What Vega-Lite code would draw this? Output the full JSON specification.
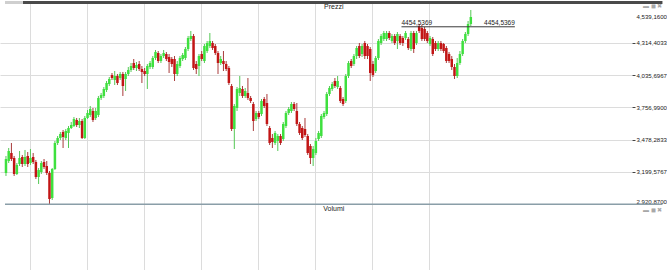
{
"$schema": "https://vega.github.io/schema/vega-lite/v6.json",
"width": 632, "height": 270, "padding": 0, "autosize": {"type": "pad"},
"background": "white",
"config": {"view": {"stroke": null}, "font": "Liberation Sans, Arial, sans-serif"},
"datasets": {
"candles": [
{"d":0,"o":3191.0,"h":3337.9,"l":3165.0,"c":3311.9},
{"d":1,"o":3294.7,"h":3407.0,"l":3277.4,"c":3381.1},
{"d":2,"o":3363.8,"h":3450.2,"l":3294.7,"c":3311.9},
{"d":3,"o":3320.6,"h":3337.9,"l":3165.0,"c":3182.3},
{"d":4,"o":3182.3,"h":3277.4,"l":3173.7,"c":3260.1},
{"d":5,"o":3268.7,"h":3381.1,"l":3251.4,"c":3320.6},
{"d":6,"o":3329.2,"h":3346.5,"l":3242.8,"c":3268.7},
{"d":7,"o":3268.7,"h":3389.7,"l":3251.4,"c":3329.2},
{"d":8,"o":3337.9,"h":3372.4,"l":3242.8,"c":3268.7},
{"d":9,"o":3277.4,"h":3398.4,"l":3260.1,"c":3320.6},
{"d":10,"o":3329.2,"h":3363.8,"l":3268.7,"c":3286.0},
{"d":11,"o":3286.0,"h":3303.3,"l":3139.1,"c":3156.4},
{"d":12,"o":3156.4,"h":3234.2,"l":3095.9,"c":3216.9},
{"d":13,"o":3199.6,"h":3294.7,"l":3182.3,"c":3277.4},
{"d":14,"o":3286.0,"h":3311.9,"l":3225.5,"c":3242.8},
{"d":15,"o":3251.4,"h":3294.7,"l":3173.7,"c":3191.0},
{"d":16,"o":3191.0,"h":3208.2,"l":2923.1,"c":2966.3},
{"d":17,"o":2974.9,"h":3234.2,"l":2957.6,"c":3225.5},
{"d":18,"o":3225.5,"h":3467.5,"l":3216.9,"c":3450.2},
{"d":19,"o":3450.2,"h":3510.7,"l":3432.9,"c":3493.4},
{"d":20,"o":3493.4,"h":3545.3,"l":3476.1,"c":3528.0},
{"d":21,"o":3545.3,"h":3562.6,"l":3407.0,"c":3502.1},
{"d":22,"o":3493.4,"h":3571.2,"l":3476.1,"c":3553.9},
{"d":23,"o":3536.6,"h":3597.1,"l":3407.0,"c":3579.8},
{"d":24,"o":3579.8,"h":3631.7,"l":3571.2,"c":3605.8},
{"d":25,"o":3597.1,"h":3674.9,"l":3588.5,"c":3657.6},
{"d":26,"o":3649.0,"h":3666.3,"l":3588.5,"c":3605.8},
{"d":27,"o":3605.8,"h":3666.3,"l":3579.8,"c":3640.3},
{"d":28,"o":3640.3,"h":3657.6,"l":3484.8,"c":3493.4},
{"d":29,"o":3493.4,"h":3683.5,"l":3484.8,"c":3666.3},
{"d":30,"o":3666.3,"h":3735.4,"l":3657.6,"c":3709.5},
{"d":31,"o":3692.2,"h":3770.0,"l":3674.9,"c":3744.0},
{"d":32,"o":3726.7,"h":3752.7,"l":3631.7,"c":3649.0},
{"d":33,"o":3666.3,"h":3752.7,"l":3649.0,"c":3726.7},
{"d":34,"o":3692.2,"h":3856.4,"l":3674.9,"c":3839.1},
{"d":35,"o":3839.1,"h":3882.3,"l":3821.8,"c":3865.0},
{"d":36,"o":3856.4,"h":3934.1,"l":3839.1,"c":3916.9},
{"d":37,"o":3908.2,"h":3986.0,"l":3890.9,"c":3968.7},
{"d":38,"o":3960.1,"h":4020.6,"l":3942.8,"c":4003.3},
{"d":39,"o":4037.8,"h":4055.1,"l":3994.6,"c":4011.9},
{"d":40,"o":3994.6,"h":4072.4,"l":3951.4,"c":4029.2},
{"d":41,"o":4029.2,"h":4046.5,"l":3951.4,"c":3968.7},
{"d":42,"o":4011.9,"h":4063.8,"l":3994.6,"c":4046.5},
{"d":43,"o":4046.5,"h":4063.8,"l":3856.4,"c":3942.8},
{"d":44,"o":4003.3,"h":4063.8,"l":3899.6,"c":4046.5},
{"d":45,"o":4046.5,"h":4107.0,"l":4029.2,"c":4081.1},
{"d":46,"o":4081.1,"h":4141.5,"l":4063.8,"c":4115.6},
{"d":47,"o":4141.5,"h":4176.1,"l":4081.1,"c":4098.3},
{"d":48,"o":4098.3,"h":4150.2,"l":4072.4,"c":4124.3},
{"d":49,"o":4132.9,"h":4158.8,"l":4072.4,"c":4089.7},
{"d":50,"o":4089.7,"h":4115.6,"l":3968.7,"c":4063.8},
{"d":51,"o":4072.4,"h":4098.3,"l":4029.2,"c":4046.5},
{"d":52,"o":4046.5,"h":4132.9,"l":3916.9,"c":4115.6},
{"d":53,"o":4107.0,"h":4158.8,"l":4089.7,"c":4141.5},
{"d":54,"o":4107.0,"h":4202.0,"l":4089.7,"c":4184.8},
{"d":55,"o":4184.8,"h":4253.9,"l":4167.5,"c":4236.6},
{"d":56,"o":4228.0,"h":4245.2,"l":4141.5,"c":4158.8},
{"d":57,"o":4158.8,"h":4219.3,"l":4141.5,"c":4202.0},
{"d":58,"o":4202.0,"h":4253.9,"l":4184.8,"c":4228.0},
{"d":59,"o":4219.3,"h":4236.6,"l":4158.8,"c":4176.1},
{"d":60,"o":4193.4,"h":4219.3,"l":4055.1,"c":4150.2},
{"d":61,"o":4176.1,"h":4193.4,"l":4107.0,"c":4132.9},
{"d":62,"o":4176.1,"h":4202.0,"l":3986.0,"c":4046.5},
{"d":63,"o":4046.5,"h":4158.8,"l":4029.2,"c":4132.9},
{"d":64,"o":4115.6,"h":4202.0,"l":4098.3,"c":4184.8},
{"d":65,"o":4176.1,"h":4228.0,"l":4158.8,"c":4210.7},
{"d":66,"o":4184.8,"h":4279.8,"l":4167.5,"c":4262.5},
{"d":67,"o":4262.5,"h":4374.9,"l":4245.2,"c":4357.6},
{"d":68,"o":4348.9,"h":4418.1,"l":4331.7,"c":4374.9},
{"d":69,"o":4374.9,"h":4392.2,"l":4081.1,"c":4098.3},
{"d":70,"o":4132.9,"h":4158.8,"l":4046.5,"c":4089.7},
{"d":71,"o":4115.6,"h":4219.3,"l":4029.2,"c":4202.0},
{"d":72,"o":4219.3,"h":4245.2,"l":4158.8,"c":4176.1},
{"d":73,"o":4158.8,"h":4305.7,"l":4141.5,"c":4288.5},
{"d":74,"o":4245.2,"h":4331.7,"l":4228.0,"c":4314.4},
{"d":75,"o":4288.5,"h":4400.8,"l":4271.2,"c":4331.7},
{"d":76,"o":4314.4,"h":4331.7,"l":4253.9,"c":4271.2},
{"d":77,"o":4288.5,"h":4305.7,"l":4210.7,"c":4228.0},
{"d":78,"o":4228.0,"h":4245.2,"l":4046.5,"c":4141.5},
{"d":79,"o":4141.5,"h":4202.0,"l":4124.3,"c":4176.1},
{"d":80,"o":4158.8,"h":4245.2,"l":4072.4,"c":4132.9},
{"d":81,"o":4132.9,"h":4158.8,"l":4072.4,"c":4089.7},
{"d":82,"o":4098.3,"h":4115.6,"l":3951.4,"c":3968.7},
{"d":83,"o":3942.8,"h":3960.1,"l":3553.9,"c":3571.2},
{"d":84,"o":3571.2,"h":3787.2,"l":3398.4,"c":3770.0},
{"d":85,"o":3752.7,"h":3934.1,"l":3726.7,"c":3916.9},
{"d":86,"o":3882.3,"h":4029.2,"l":3856.4,"c":3925.5},
{"d":87,"o":3916.9,"h":3942.8,"l":3839.1,"c":3856.4},
{"d":88,"o":3856.4,"h":3925.5,"l":3839.1,"c":3899.6},
{"d":89,"o":3882.3,"h":4011.9,"l":3821.8,"c":3839.1},
{"d":90,"o":3839.1,"h":3856.4,"l":3795.9,"c":3813.2},
{"d":91,"o":3787.2,"h":3804.5,"l":3553.9,"c":3640.3},
{"d":92,"o":3657.6,"h":3726.7,"l":3640.3,"c":3709.5},
{"d":93,"o":3709.5,"h":3726.7,"l":3657.6,"c":3674.9},
{"d":94,"o":3700.8,"h":3830.4,"l":3683.5,"c":3813.2},
{"d":95,"o":3830.4,"h":3847.7,"l":3752.7,"c":3770.0},
{"d":96,"o":3795.9,"h":3873.7,"l":3597.1,"c":3614.4},
{"d":97,"o":3579.8,"h":3597.1,"l":3432.9,"c":3450.2},
{"d":98,"o":3493.4,"h":3528.0,"l":3407.0,"c":3458.9},
{"d":99,"o":3450.2,"h":3553.9,"l":3432.9,"c":3536.6},
{"d":100,"o":3467.5,"h":3528.0,"l":3381.1,"c":3510.7},
{"d":101,"o":3510.7,"h":3528.0,"l":3432.9,"c":3450.2},
{"d":102,"o":3484.8,"h":3631.7,"l":3467.5,"c":3614.4},
{"d":103,"o":3597.1,"h":3726.7,"l":3579.8,"c":3709.5},
{"d":104,"o":3709.5,"h":3761.3,"l":3692.2,"c":3744.0},
{"d":105,"o":3726.7,"h":3804.5,"l":3709.5,"c":3787.2},
{"d":106,"o":3787.2,"h":3804.5,"l":3726.7,"c":3744.0},
{"d":107,"o":3726.7,"h":3795.9,"l":3597.1,"c":3614.4},
{"d":108,"o":3614.4,"h":3631.7,"l":3519.3,"c":3536.6},
{"d":109,"o":3579.8,"h":3597.1,"l":3476.1,"c":3493.4},
{"d":110,"o":3571.2,"h":3666.3,"l":3502.1,"c":3519.3},
{"d":111,"o":3510.7,"h":3528.0,"l":3346.5,"c":3363.8},
{"d":112,"o":3424.3,"h":3441.6,"l":3268.7,"c":3320.6},
{"d":113,"o":3320.6,"h":3424.3,"l":3251.4,"c":3398.4},
{"d":114,"o":3363.8,"h":3493.4,"l":3346.5,"c":3467.5},
{"d":115,"o":3484.8,"h":3553.9,"l":3467.5,"c":3536.6},
{"d":116,"o":3510.7,"h":3700.8,"l":3493.4,"c":3683.5},
{"d":117,"o":3674.9,"h":3726.7,"l":3657.6,"c":3709.5},
{"d":118,"o":3700.8,"h":3890.9,"l":3683.5,"c":3873.7},
{"d":119,"o":3873.7,"h":3942.8,"l":3856.4,"c":3925.5},
{"d":120,"o":3916.9,"h":3977.4,"l":3899.6,"c":3960.1},
{"d":121,"o":3986.0,"h":4011.9,"l":3925.5,"c":3942.8},
{"d":122,"o":3934.1,"h":4029.2,"l":3916.9,"c":3986.0},
{"d":123,"o":3925.5,"h":3942.8,"l":3795.9,"c":3813.2},
{"d":124,"o":3830.4,"h":3847.7,"l":3770.0,"c":3787.2},
{"d":125,"o":3813.2,"h":4046.5,"l":3795.9,"c":4029.2},
{"d":126,"o":4029.2,"h":4158.8,"l":4011.9,"c":4141.5},
{"d":127,"o":4158.8,"h":4176.1,"l":4098.3,"c":4115.6},
{"d":128,"o":4132.9,"h":4219.3,"l":4115.6,"c":4202.0},
{"d":129,"o":4202.0,"h":4288.5,"l":4176.1,"c":4271.2},
{"d":130,"o":4288.5,"h":4314.4,"l":4184.8,"c":4202.0},
{"d":131,"o":4219.3,"h":4305.7,"l":4193.4,"c":4288.5},
{"d":132,"o":4314.4,"h":4331.7,"l":4176.1,"c":4202.0},
{"d":133,"o":4288.5,"h":4305.7,"l":4176.1,"c":4202.0},
{"d":134,"o":4262.5,"h":4279.8,"l":3986.0,"c":4055.1},
{"d":135,"o":4132.9,"h":4158.8,"l":4020.6,"c":4037.8},
{"d":136,"o":4072.4,"h":4202.0,"l":4055.1,"c":4184.8},
{"d":137,"o":4184.8,"h":4348.9,"l":4167.5,"c":4331.7},
{"d":138,"o":4314.4,"h":4392.2,"l":4297.1,"c":4374.9},
{"d":139,"o":4348.9,"h":4418.1,"l":4331.7,"c":4400.8},
{"d":140,"o":4348.9,"h":4418.1,"l":4331.7,"c":4400.8},
{"d":141,"o":4400.8,"h":4418.1,"l":4340.3,"c":4357.6},
{"d":142,"o":4331.7,"h":4392.2,"l":4314.4,"c":4374.9},
{"d":143,"o":4374.9,"h":4392.2,"l":4297.1,"c":4314.4},
{"d":144,"o":4331.7,"h":4409.4,"l":4262.5,"c":4392.2},
{"d":145,"o":4374.9,"h":4392.2,"l":4297.1,"c":4314.4},
{"d":146,"o":4357.6,"h":4374.9,"l":4288.5,"c":4314.4},
{"d":147,"o":4357.6,"h":4418.1,"l":4340.3,"c":4400.8},
{"d":148,"o":4348.9,"h":4366.2,"l":4253.9,"c":4271.2},
{"d":149,"o":4262.5,"h":4418.1,"l":4245.2,"c":4400.8},
{"d":150,"o":4400.8,"h":4418.1,"l":4228.0,"c":4262.5},
{"d":151,"o":4314.4,"h":4418.1,"l":4297.1,"c":4400.8},
{"d":152,"o":4461.3,"h":4478.6,"l":4400.8,"c":4418.1},
{"d":153,"o":4444.0,"h":4469.9,"l":4331.7,"c":4348.9},
{"d":154,"o":4435.4,"h":4452.7,"l":4331.7,"c":4348.9},
{"d":155,"o":4400.8,"h":4418.1,"l":4314.4,"c":4331.7},
{"d":156,"o":4305.7,"h":4374.9,"l":4288.5,"c":4357.6},
{"d":157,"o":4348.9,"h":4366.2,"l":4202.0,"c":4219.3},
{"d":158,"o":4314.4,"h":4331.7,"l":4245.2,"c":4262.5},
{"d":159,"o":4262.5,"h":4331.7,"l":4245.2,"c":4314.4},
{"d":160,"o":4314.4,"h":4331.7,"l":4245.2,"c":4262.5},
{"d":161,"o":4305.7,"h":4314.4,"l":4228.0,"c":4245.2},
{"d":162,"o":4271.2,"h":4288.5,"l":4141.5,"c":4158.8},
{"d":163,"o":4219.3,"h":4236.6,"l":4141.5,"c":4158.8},
{"d":164,"o":4176.1,"h":4202.0,"l":4081.1,"c":4107.0},
{"d":165,"o":4107.0,"h":4132.9,"l":4003.3,"c":4029.2},
{"d":166,"o":4029.2,"h":4184.8,"l":4011.9,"c":4141.5},
{"d":167,"o":4141.5,"h":4245.2,"l":4124.3,"c":4219.3},
{"d":168,"o":4219.3,"h":4348.9,"l":4202.0,"c":4331.7},
{"d":169,"o":4331.7,"h":4409.4,"l":4314.4,"c":4392.2},
{"d":170,"o":4392.2,"h":4504.5,"l":4374.9,"c":4478.6},
{"d":171,"o":4478.6,"h":4599.6,"l":4461.3,"c":4539.16}
],
"level": [{"d": 145.5, "d2": 187.2, "v": 4454.5369, "lbl": "4454,5369"}],
"one": [{}]
},
"layer": [
{
"data": {"name": "candles"},
"mark": {"type": "rule", "strokeWidth": 1},
"encoding": {
"x": {"field": "d", "type": "quantitative",
"scale": {"domain": [-0.362, 228.46], "nice": false, "zero": false},
"axis": {"values": [8.69, 29.69, 50.69, 71.69, 92.69, 113.69, 134.69, 155.69], "labels": false, "ticks": false, "domain": false, "grid": true, "gridColor": "#dcdcdc", "gridWidth": 1, "title": null}},
"y": {"field": "l", "type": "quantitative",
"scale": {"domain": [2344.0, 4677.36], "nice": false, "zero": false},
"axis": {"orient": "right", "values": [2920.87, 3199.5767, 3478.2833, 3756.99, 4035.6967, 4314.4033, 4539.16],
"labelExpr": "replace(format(datum.value, ',.4f'), '.', ',')",
"labelFont": "Liberation Sans", "labelFontSize": 6.1, "labelColor": "#222", "labelPadding": 1, "labelBound": false, "labelOverlap": false, "labelFlush": false,
"labelBaseline": {"condition": {"test": "datum.value < 3000", "value": "bottom"}, "value": "middle"},
"tickSize": 3, "tickColor": "#444",
"tickOpacity": {"condition": {"test": "datum.value < 3000 || datum.value > 4500", "value": 0}, "value": 1},
"domain": false, "grid": true, "gridColor": "#dcdcdc",
"gridOpacity": {"condition": {"test": "datum.value < 3000 || datum.value > 4500", "value": 0}, "value": 1},
"title": null}},
"y2": {"field": "h"},
"color": {"condition": {"test": "datum.c >= datum.o", "value": "#55c855"}, "value": "#a83a3a"}
}
},
{
"data": {"name": "candles"},
"mark": {"type": "bar", "size": 2.5},
"encoding": {
"x": {"field": "d", "type": "quantitative", "axis": {"title": null}},
"y": {"field": "o", "type": "quantitative", "axis": {"title": null}},
"y2": {"field": "c"},
"color": {"condition": {"test": "datum.c >= datum.o", "value": "#3ee03e"}, "value": "#c21515"}
}
},
{
"data": {"name": "one"},
"mark": {"type": "rule", "color": "#8a9ea8", "strokeWidth": 1.5},
"encoding": {"x": {"datum": -0.362, "type": "quantitative", "axis": {"title": null}}, "x2": {"datum": 241.5}, "y": {"datum": 2920.87, "type": "quantitative", "axis": {"title": null}}}
},
{
"data": {"name": "one"},
"mark": {"type": "rule", "color": "#4a4a4a", "strokeWidth": 3},
"encoding": {"x": {"datum": 6.2, "type": "quantitative", "axis": {"title": null}}, "x2": {"datum": 241.5}, "y": {"datum": 4664.4, "type": "quantitative", "axis": {"title": null}}}
},
{
"data": {"name": "one"},
"mark": {"type": "rule", "color": "#cfcfcf", "strokeWidth": 3},
"encoding": {"x": {"datum": -0.362, "type": "quantitative", "axis": {"title": null}}, "x2": {"datum": 6.2}, "y": {"datum": 4664.4, "type": "quantitative", "axis": {"title": null}}}
},
{
"data": {"name": "level"},
"mark": {"type": "rule", "color": "#3a3a3a", "strokeWidth": 1},
"encoding": {"x": {"field": "d", "type": "quantitative", "axis": {"title": null}}, "x2": {"field": "d2"}, "y": {"field": "v", "type": "quantitative", "axis": {"title": null}}}
},
{
"data": {"name": "level"},
"mark": {"type": "text", "align": "left", "baseline": "bottom", "dy": -1, "fontSize": 6.5, "color": "#222"},
"encoding": {"x": {"field": "d", "type": "quantitative", "axis": {"title": null}}, "y": {"field": "v", "type": "quantitative", "axis": {"title": null}}, "text": {"field": "lbl", "type": "nominal"}}
},
{
"data": {"name": "level"},
"mark": {"type": "text", "align": "right", "baseline": "bottom", "dy": -1, "fontSize": 6.5, "color": "#222"},
"encoding": {"x": {"field": "d2", "type": "quantitative", "axis": {"title": null}}, "y": {"field": "v", "type": "quantitative", "axis": {"title": null}}, "text": {"field": "lbl", "type": "nominal"}}
},
{
"data": {"name": "one"},
"mark": {"type": "text", "align": "center", "baseline": "middle", "fontSize": 7, "color": "#222"},
"encoding": {"x": {"datum": 120.6, "type": "quantitative", "axis": {"title": null}}, "y": {"datum": 4625.5, "type": "quantitative", "axis": {"title": null}}, "text": {"value": "Prezzi"}}
},
{
"data": {"name": "one"},
"mark": {"type": "text", "align": "center", "baseline": "middle", "fontSize": 7, "color": "#222"},
"encoding": {"x": {"datum": 120.6, "type": "quantitative", "axis": {"title": null}}, "y": {"datum": 2879.8, "type": "quantitative", "axis": {"title": null}}, "text": {"value": "Volumi"}}
},
{
"data": {"name": "one"},
"mark": {"type": "text", "align": "center", "baseline": "middle", "fontSize": 6, "color": "#a8a8a8"},
"encoding": {"x": {"datum": 237.9, "type": "quantitative", "axis": {"title": null}}, "y": {"datum": 4634.2, "type": "quantitative", "axis": {"title": null}}, "text": {"value": "▬ ◼ ✖"}}
},
{
"data": {"name": "one"},
"mark": {"type": "text", "align": "center", "baseline": "middle", "fontSize": 6, "color": "#a8a8a8"},
"encoding": {"x": {"datum": 237.9, "type": "quantitative", "axis": {"title": null}}, "y": {"datum": 2871.1, "type": "quantitative", "axis": {"title": null}}, "text": {"value": "▬ ◼ ✖"}}
}
]
}
